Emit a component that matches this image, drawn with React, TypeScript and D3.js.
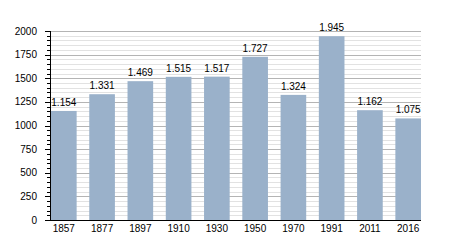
import React from "react";
import * as d3 from "d3";

const years = ["1857", "1877", "1897", "1910", "1930", "1950", "1970", "1991", "2011", "2016"];
const population = [1154, 1331, 1469, 1515, 1517, 1727, 1324, 1945, 1162, 1075];
const yTicks = [0, 250, 500, 750, 1000, 1250, 1500, 1750, 2000];
const yMinorTicks = d3.range(0, 2001, 50);

const W = 450, H = 250;
const left = 50, right = 421, top = 31, bottom = 220;

const fmt = (v: number) => {
  const s = String(v);
  return s.length > 3 ? s.slice(0, s.length - 3) + "." + s.slice(-3) : s;
};

export default function App() {
  const x = d3.scaleBand<string>().domain(years).range([51, right]).paddingInner(0.33).paddingOuter(0);
  const y = d3.scaleLinear().domain([0, 2000]).range([bottom, top]);
  const font = "Liberation Sans, Arial, sans-serif";
  return (
    <svg width={W} height={H} style={{ position: "absolute", left: 0, top: 0, background: "#fff" }}>
      <g>
        {yMinorTicks.map((t) => (
          <line key={"g" + t} x1={left} x2={right} y1={Math.round(y(t)) + 0.5} y2={Math.round(y(t)) + 0.5}
            stroke={t % 250 === 0 ? "#b4b4b4" : "#e2e2e2"} strokeWidth={1} />
        ))}
      </g>
      <g>
        {years.map((yr, i) => (
          <rect key={yr} x={x(yr)} y={y(population[i])} width={x.bandwidth()} height={bottom - y(population[i])}
            fill="#9ab1ca" />
        ))}
      </g>
      <g>
        {yMinorTicks.map((t) => (
          <line key={"t" + t} x1={t % 250 === 0 ? left - 5 : left - 3} x2={left}
            y1={Math.round(y(t)) + 0.5} y2={Math.round(y(t)) + 0.5} stroke="#000" strokeWidth={1} />
        ))}
        <line x1={left + 0.5} x2={left + 0.5} y1={top} y2={bottom} stroke="#000" />
        <line x1={left} x2={right} y1={bottom + 0.5} y2={bottom + 0.5} stroke="#000" />
        {yTicks.map((t) => (
          <text key={"l" + t} x={37} y={y(t)} dy="0.35em" textAnchor="end" fontSize={10} fontFamily={font} fill="#000">
            {t}
          </text>
        ))}
        {years.map((yr) => (
          <text key={"x" + yr} x={x(yr)! + x.bandwidth() / 2} y={232} textAnchor="middle" fontSize={10} fontFamily={font} fill="#000">
            {yr}
          </text>
        ))}
        {years.map((yr, i) => (
          <text key={"v" + yr} x={x(yr)! + x.bandwidth() / 2} y={y(population[i]) - 5} textAnchor="middle" fontSize={10} fontFamily={font} fill="#000">
            {fmt(population[i])}
          </text>
        ))}
      </g>
    </svg>
  );
}
